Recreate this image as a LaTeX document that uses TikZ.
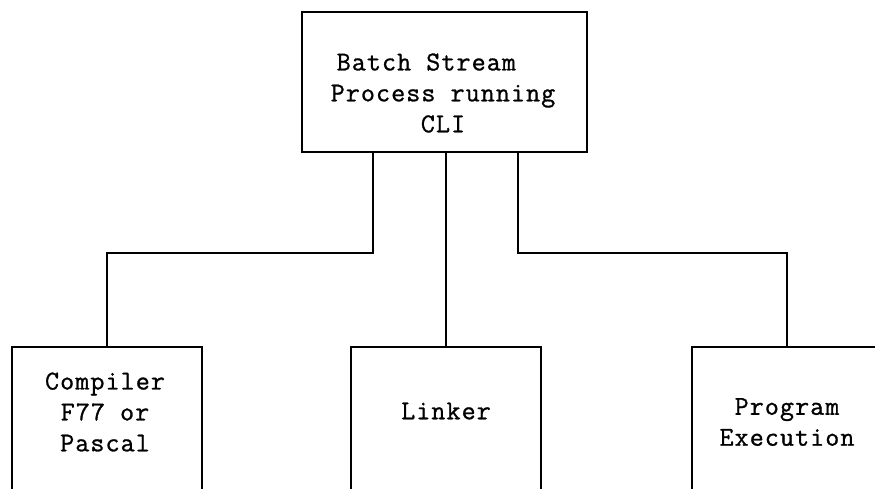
\documentclass[tikz,border=0pt]{standalone}
\usepackage{fontspec}
\newfontfamily\typewr[FakeBold=1, LetterSpace=4]{Latin Modern Mono}

\begin{document}
\begin{tikzpicture}[x=0.02cm, y=-0.02cm,
    box/.style={draw, line width=1.3pt, minimum width=3.8cm, minimum height=3.2cm},
    boxtext/.style={font=\typewr\fontsize{15.5}{17.6}\selectfont, align=center, inner sep=0pt},
    link/.style={line width=0.9pt}]
    % page frame: the lower boxes run off the sheet
    \clip (0,0) rectangle (875,488);

    % Parent process
    \node[box, minimum width=5.7cm, minimum height=2.8cm] (batch) at (444.5,82) {};
    \node[boxtext] (batchtext) at (443,93) {Batch Stream\hspace*{19pt}\\Process running\\CLI};

    % The three job steps
    \node[box] (compiler) at (107,427) {};
    \node[box] (linker) at (446,427) {};
    \node[box] (exec) at (787,427) {};

    \node[boxtext] (compilertext) at (105,412) {Compiler\\F77 or\\Pascal};
    \node[boxtext] (linkertext) at (446,411) {Linker};
    \node[boxtext] (exectext) at (787,422) {Program\\Execution};

    % Connections from the batch stream down to each step
    \draw[link] ([xshift=-1.43cm]batch.south) -- ++(0,100) -| (compiler.north);
    \draw[link] (batch.south -| linker.north) -- (linker.north);
    \draw[link] ([xshift=1.47cm]batch.south) -- ++(0,100) -| (exec.north);
\end{tikzpicture}
\end{document}
